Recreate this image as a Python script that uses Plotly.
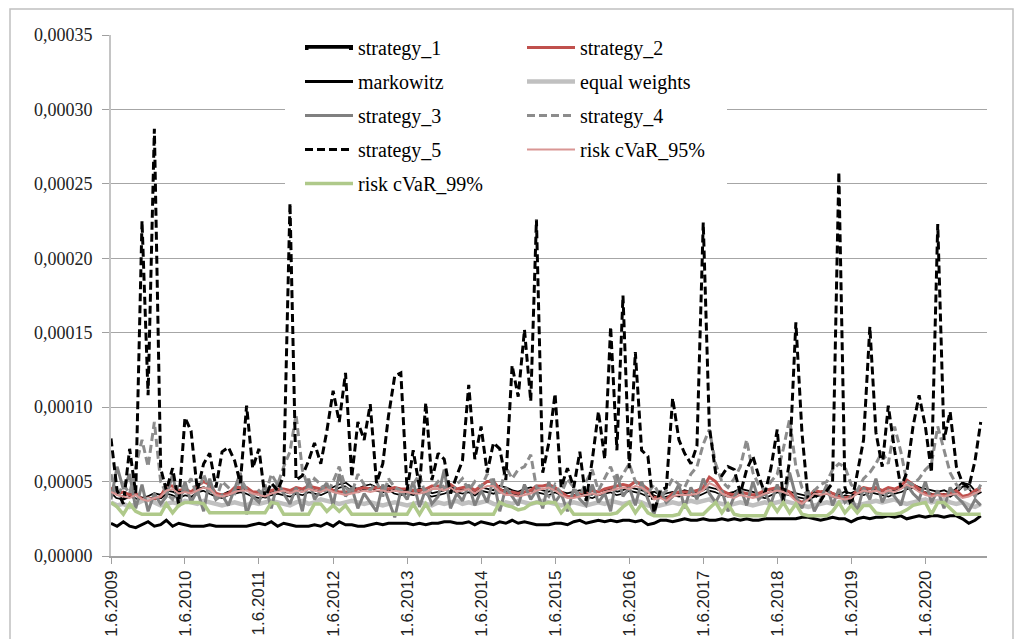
import pandas as pd
import plotly.graph_objects as go

# ---------------- data (values in units of 1e-6) ----------------
start_month = "2009-06-01"
tick_labels = ["1.6.2009", "1.6.2010", "1.6.2011", "1.6.2012", "1.6.2013", "1.6.2014",
               "1.6.2015", "1.6.2016", "1.6.2017", "1.6.2018", "1.6.2019", "1.6.2020"]
y_ticks = [0, 0.00005, 0.00010, 0.00015, 0.00020, 0.00025, 0.00030, 0.00035]

strategy_1 = [44,40,39,41,40,38,39,41,40,43,42,40,
              42,41,44,45,43,41,40,42,43,44,43,41,
              40,41,42,43,42,41,43,42,44,43,42,44,
              45,47,48,45,44,46,47,45,44,46,43,42,
              43,42,44,43,41,42,43,45,44,43,44,42,
              45,44,43,46,45,43,42,44,45,44,43,42,
              44,42,41,42,43,41,40,42,43,44,42,43,
              45,44,43,41,42,40,41,42,41,43,42,41,
              43,45,44,42,41,42,44,43,42,41,40,42,
              44,43,42,41,40,39,41,42,43,41,40,42,
              41,43,42,44,43,42,41,43,44,46,47,45,
              44,43,42,43,41,44,48,47,42,44]
strategy_2 = [46,42,43,41,42,38,39,38,40,47,47,44,
              45,43,47,50,48,42,41,42,46,46,46,43,
              43,42,44,45,45,44,46,45,47,46,45,47,
              44,43,43,43,45,46,45,46,46,45,46,45,
              45,44,44,45,47,47,46,48,45,46,47,44,
              47,50,50,45,42,43,42,43,44,47,47,48,
              46,43,40,40,42,43,44,43,45,46,47,48,
              47,50,48,45,39,40,38,42,43,43,43,44,
              46,53,50,44,42,41,43,42,41,42,44,45,
              46,45,43,38,36,39,44,43,44,42,40,39,
              40,44,46,45,46,44,46,45,47,51,48,45,
              42,41,42,41,42,44,40,41,44,46]
markowitz = [22,20,23,20,19,21,23,20,21,24,20,22,
             21,20,20,20,21,20,20,20,20,20,20,21,
             22,21,23,20,22,21,20,20,20,21,20,22,
             20,23,21,21,20,20,21,22,21,22,22,22,
             22,21,22,21,22,22,23,23,22,22,23,21,
             23,22,21,23,22,24,22,23,22,21,21,21,
             22,22,21,23,24,22,23,24,23,24,23,24,
             24,23,24,21,22,24,24,23,24,25,24,24,
             25,24,24,25,24,25,24,25,24,24,25,25,
             25,25,25,25,26,26,25,24,25,26,25,25,
             23,25,26,25,26,26,27,26,27,25,26,27,
             26,27,27,26,27,27,25,22,24,27]
equal_weights = [36,34,35,33,35,37,38,36,34,35,36,35,
                 37,36,35,37,36,35,34,35,36,35,34,36,
                 35,36,37,36,35,34,36,37,35,36,38,37,
                 36,35,36,37,36,35,36,35,34,35,36,35,
                 34,35,36,35,34,36,35,36,37,35,36,35,
                 36,37,35,34,36,35,37,36,35,36,37,36,
                 35,34,35,36,35,34,35,36,35,37,36,35,
                 36,37,36,34,33,34,35,36,35,36,37,36,
                 37,38,36,35,34,35,36,35,34,35,36,35,
                 36,37,36,35,34,33,34,35,36,35,36,37,
                 35,34,35,36,37,36,37,38,36,35,36,37,
                 38,36,37,38,36,35,36,34,33,35]
strategy_3 = [38,60,45,55,32,48,30,42,35,40,55,33,
              50,36,44,30,52,38,41,34,45,56,28,40,
              36,48,32,50,42,35,46,30,52,38,44,49,
              34,55,40,46,32,42,36,30,48,38,26,44,
              38,50,33,45,35,40,58,32,42,37,48,34,
              44,36,52,30,46,40,34,48,38,44,32,50,
              36,42,30,45,38,34,48,36,42,30,55,40,
              46,34,50,38,28,44,36,40,48,32,46,38,
              52,42,36,44,30,40,46,34,50,38,42,35,
              48,36,56,40,32,44,30,38,48,34,45,36,
              40,30,46,38,52,36,44,40,34,48,42,38,
              50,36,44,32,46,40,36,30,38,34]
strategy_4 = [55,40,48,42,60,78,60,90,50,42,38,48,
              45,52,40,55,44,38,50,46,42,52,45,40,
              44,40,55,48,60,70,95,58,45,52,48,42,
              50,60,46,42,55,48,44,50,40,52,46,44,
              42,48,55,40,45,50,46,42,48,52,44,50,
              46,55,48,42,60,52,58,60,68,46,44,40,
              48,42,52,46,40,50,58,44,52,60,48,55,
              62,50,46,42,48,40,44,52,48,46,55,60,
              75,85,62,50,46,52,60,78,56,48,44,50,
              55,72,92,60,46,40,44,48,50,58,62,60,
              48,44,52,56,62,70,62,87,70,50,48,52,
              58,62,87,72,56,48,44,46,40,48]
strategy_5 = [79,44,35,72,42,225,108,287,59,44,59,35,
              93,84,44,62,69,46,70,73,64,49,101,59,
              72,39,49,44,54,237,51,54,64,76,62,84,
              111,90,123,53,90,78,102,49,62,94,121,123,
              44,71,46,103,51,69,65,42,54,64,115,65,
              87,56,76,72,51,128,107,152,104,226,56,76,
              109,46,59,46,70,37,64,97,65,154,71,175,
              59,137,71,67,29,44,46,106,78,69,62,74,
              224,87,56,54,60,58,42,58,67,54,42,59,
              85,37,64,157,83,37,42,37,44,49,258,46,
              34,56,78,154,83,60,101,71,46,56,87,108,
              87,56,223,78,97,60,49,46,64,90]
risk_cvar_95 = [43,41,40,39,41,38,37,39,40,44,45,42,
                43,42,44,46,45,41,40,41,43,44,44,42,
                41,40,42,43,44,42,44,43,45,44,43,45,
                43,42,41,42,43,44,43,44,44,43,44,43,
                43,42,42,43,45,45,44,46,43,44,45,42,
                45,47,47,43,41,41,40,41,42,44,45,46,
                44,41,39,39,40,41,42,41,43,44,45,46,
                45,47,46,43,38,39,37,40,41,41,41,42,
                44,49,47,42,40,39,41,40,39,40,42,43,
                44,43,41,37,35,38,42,41,42,40,39,38,
                39,42,44,43,44,42,44,43,45,48,46,43,
                41,40,41,40,41,42,39,40,42,44]
risk_cvar_99 = [36,33,28,35,30,28,28,28,28,35,29,34,
                36,36,36,35,29,29,29,29,29,29,29,29,
                29,29,36,35,28,28,28,28,28,35,35,30,
                34,30,34,28,28,28,28,28,28,28,28,28,
                28,35,28,35,28,28,28,28,28,28,28,28,
                28,28,28,36,34,33,31,32,35,36,35,36,
                36,29,34,28,28,28,28,28,28,28,29,33,
                36,29,35,29,27,27,27,27,28,35,28,28,
                28,32,36,29,35,28,27,27,27,27,27,36,
                30,36,29,35,28,27,27,27,27,30,36,29,
                34,29,34,34,29,28,28,28,29,31,34,35,
                36,28,36,36,32,28,28,28,28,28]
UNIT = 1e-6

# ---------------- figure ----------------
n = len(strategy_5)
dates = pd.date_range(start_month, periods=n, freq="MS")
tick_dates = [pd.Timestamp(int(t.split(".")[2]), int(t.split(".")[1]), int(t.split(".")[0])) for t in tick_labels]

# page has an 8px body margin; figure coordinates below are page pixels minus 8
W, H = 1015, 631
L, R, T, B = 103, 979, 27, 548   # plot area in figure pixels


def px_x(px):
    return (px - L) / (R - L)


def px_y(py):
    return (B - py) / (B - T)


series = [
    ("strategy_1", strategy_1, dict(color="black", width=5), "legend"),
    ("strategy_2", strategy_2, dict(color="#C0504D", width=3), "legend2"),
    ("markowitz", markowitz, dict(color="black", width=3), "legend"),
    ("equal weights", equal_weights, dict(color="#C0C0C0", width=4.5), "legend2"),
    ("strategy_3", strategy_3, dict(color="#808080", width=3), "legend"),
    ("strategy_4", strategy_4, dict(color="#8C8C8C", width=3, dash="8px,4px"), "legend2"),
    ("strategy_5", strategy_5, dict(color="black", width=3, dash="8px,4px"), "legend"),
    ("risk cVaR_95%", risk_cvar_95, dict(color="#D99694", width=2), "legend2"),
    ("risk cVaR_99%", risk_cvar_99, dict(color="#AFC98A", width=3.5), "legend"),
]

fig = go.Figure()
for name, vals, line, leg in series:
    fig.add_trace(go.Scatter(
        x=dates, y=[v * UNIT for v in vals], mode="lines", name=name,
        line=line, legend=leg, legendgroup=name,
    ))
    if name == "strategy_1":
        fig.add_trace(go.Scatter(
            x=dates, y=[v * UNIT for v in vals], mode="lines", name=name,
            line=dict(color="white", width=1.5), legend=leg, legendgroup=name,
            showlegend=False, hoverinfo="skip",
        ))

legend_font = dict(family="Liberation Serif", size=20, color="black")
common_legend = dict(xref="container", yref="container", yanchor="top", xanchor="left",
                     bgcolor="rgba(0,0,0,0)", font=legend_font, itemwidth=48,
                     tracegroupgap=5, traceorder="grouped", borderwidth=0)

fig.update_layout(
    width=W, height=H,
    margin=dict(l=L, r=W - R, t=T, b=H - B, pad=0, autoexpand=False),
    paper_bgcolor="white", plot_bgcolor="white",
    separators=", ",
    showlegend=True,
    legend=dict(x=292 / W, y=1 - 20 / H, **common_legend),
    legend2=dict(x=514 / W, y=1 - 20 / H, **common_legend),
    xaxis=dict(
        type="date", range=[dates[0], pd.Timestamp("2021-04-01")],
        tickvals=tick_dates, ticktext=tick_labels, tickangle=-90,
        ticks="outside", ticklen=6, tickcolor="#A0A0A0", tickwidth=1,
        showline=True, linecolor="#A0A0A0", linewidth=1.5,
        showgrid=False, zeroline=False, automargin=False,
        tickfont=dict(family="Liberation Sans", size=17, color="#222222"),
    ),
    yaxis=dict(
        range=[0, 0.00035], tickvals=y_ticks, tickformat=".5f",
        ticks="outside", ticklen=7, tickcolor="#A0A0A0", tickwidth=1,
        showline=True, linecolor="#C4C4C4", linewidth=2,
        showgrid=True, gridcolor="#A6A6A6", gridwidth=1, zeroline=False,
        automargin=False,
        tickfont=dict(family="Liberation Serif", size=18, color="#222222"),
        ticklabelstandoff=6,
    ),
    shapes=[
        dict(type="rect", xref="paper", yref="paper",
             x0=px_x(277), x1=px_x(719), y0=px_y(189), y1=px_y(25),
             fillcolor="white", line=dict(width=0), layer="above"),
        dict(type="rect", xref="paper", yref="paper",
             x0=px_x(2), x1=px_x(1005), y0=px_y(660), y1=px_y(1),
             fillcolor="rgba(0,0,0,0)", line=dict(color="#C0C0C0", width=1.5), layer="below"),
    ],
    annotations=[
        # white core of the double-line legend symbol of strategy_1
        dict(xref="paper", yref="paper", x=px_x(341), y=px_y(41.5),
             ax=-42, ay=0, text="", showarrow=True, arrowhead=0,
             arrowwidth=1.5, arrowcolor="white", standoff=0, startstandoff=0),
    ],
)

fig.write_html("out.html")
